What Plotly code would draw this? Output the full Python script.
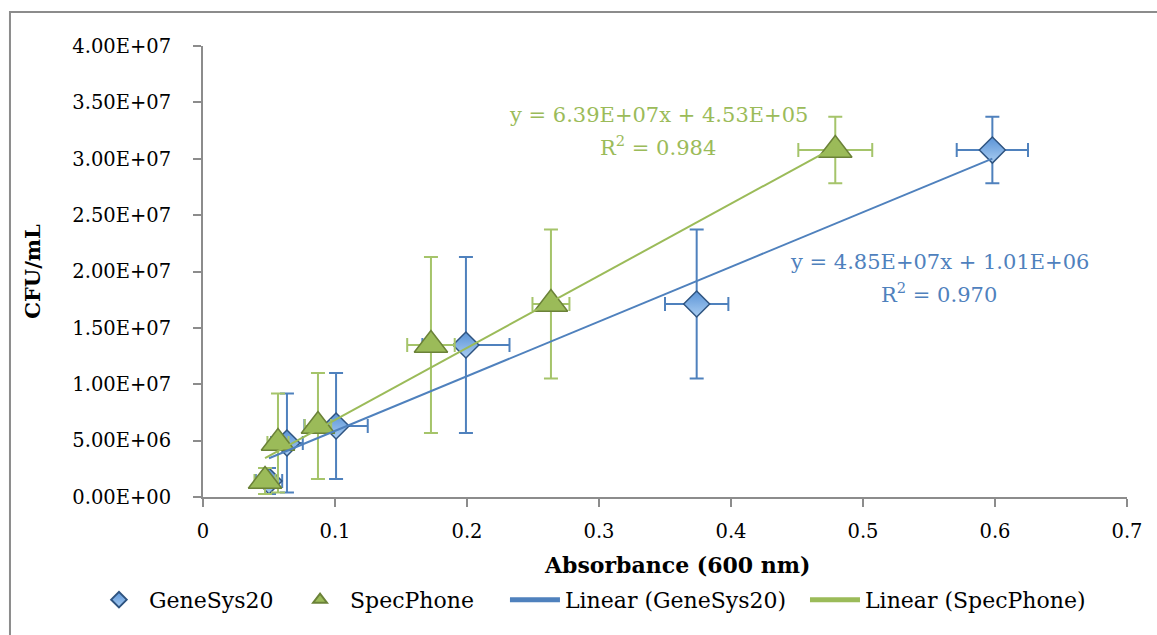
import plotly.graph_objects as go

# ---------------- data ----------------
cfu = [1.42e6, 4.79e6, 6.30e6, 1.348e7, 1.712e7, 3.077e7]
cfu_err = [1.15e6, 4.4e6, 4.7e6, 7.8e6, 6.6e6, 2.95e6]

genesys_x = [0.050, 0.0636, 0.1008, 0.1992, 0.374, 0.598]
genesys_xerr = [0.010, 0.012, 0.024, 0.033, 0.024, 0.027]

specphone_x = [0.047, 0.0568, 0.0871, 0.1727, 0.2636, 0.479]
specphone_xerr = [0.008, 0.008, 0.010, 0.018, 0.014, 0.028]

genesys_fit = {"slope": 4.85e7, "intercept": 1.01e6, "r2": 0.970}
specphone_fit = {"slope": 6.39e7, "intercept": 4.53e5, "r2": 0.984}

y_ticks = [0, 5e6, 1e7, 1.5e7, 2e7, 2.5e7, 3e7, 3.5e7, 4e7]
x_ticks = [0, 0.1, 0.2, 0.3, 0.4, 0.5, 0.6, 0.7]

x_title = "Absorbance (600 nm)"
y_title = "CFU/mL"

# ---------------- style ----------------
BLUE = "#4F81BD"
GREEN = "#9BBB59"
AXIS = "#8c8c8c"
FONT = "DejaVu Serif"


def fit_line(xs, fit):
    x0, x1 = min(xs), max(xs)
    return [x0, x1], [fit["slope"] * x0 + fit["intercept"], fit["slope"] * x1 + fit["intercept"]]


fig = go.Figure()

fig.add_trace(go.Scatter(
    x=genesys_x, y=cfu, mode="markers", name="GeneSys20", legend="legend",
    marker=dict(symbol="diamond", size=20, color="#5a93d6",
                gradient=dict(type="vertical", color="#a9cdf2"),
                line=dict(color="#2f5480", width=1.5)),
    error_y=dict(type="data", array=cfu_err, color=BLUE, thickness=2, width=7),
    error_x=dict(type="data", array=genesys_xerr, color=BLUE, thickness=2, width=7),
))

fig.add_trace(go.Scatter(
    x=specphone_x, y=cfu, mode="markers", name="SpecPhone", legend="legend2",
    marker=dict(symbol="triangle-up", size=29, color=GREEN,
                line=dict(color="#6b8238", width=1.5)),
    error_y=dict(type="data", array=cfu_err, color="#A5C46A", thickness=2, width=7),
    error_x=dict(type="data", array=specphone_xerr, color="#A5C46A", thickness=2, width=7),
))

gx, gy = fit_line(genesys_x, genesys_fit)
fig.add_trace(go.Scatter(x=gx, y=gy, mode="lines", name="Linear (GeneSys20)", legend="legend3",
                         line=dict(color=BLUE, width=2)))
sx, sy = fit_line(specphone_x, specphone_fit)
fig.add_trace(go.Scatter(x=sx, y=sy, mode="lines", name="Linear (SpecPhone)", legend="legend4",
                         line=dict(color=GREEN, width=2)))


def eq_text(fit):
    return f"y = {fit['slope']:.2E}x + {fit['intercept']:.2E}"


annos = [
    dict(x=0.3447, y=3.388e7, text=eq_text(specphone_fit), color=GREEN),
    dict(x=0.3447, y=3.113e7, text=f"R<sup>2</sup> = {specphone_fit['r2']:.3f}", color=GREEN),
    dict(x=0.5576, y=2.084e7, text=eq_text(genesys_fit), color=BLUE),
    dict(x=0.5576, y=1.809e7, text=f"R<sup>2</sup> = {genesys_fit['r2']:.3f}", color=BLUE),
]
for a in annos:
    fig.add_annotation(x=a["x"], y=a["y"], xref="x", yref="y", text=a["text"],
                       showarrow=False, xanchor="center", yanchor="middle",
                       font=dict(family=FONT, size=21, color=a["color"]))

# x-axis title (placed as in the reference, slightly right of the plot centre)
fig.add_annotation(x=0.513, y=-0.151, xref="paper", yref="paper",
                   text=f"<b>{x_title}</b>", showarrow=False,
                   xanchor="center", yanchor="middle",
                   font=dict(family=FONT, size=22, color="black"))

fig.add_shape(type="rect", xref="paper", yref="paper",
              x0=-0.2089, x1=1.2, y0=-0.5, y1=1.0754,
              line=dict(color=AXIS, width=2), layer="below")

leg_common = dict(orientation="h", xanchor="left", y=-0.228, yanchor="middle",
                  font=dict(family=FONT, size=22, color="black"),
                  itemwidth=50, itemsizing="constant", bgcolor="rgba(0,0,0,0)")

fig.update_layout(
    width=1157, height=635,
    margin=dict(l=203, r=30, t=46, b=138, autoexpand=False),
    paper_bgcolor="white", plot_bgcolor="white",
    font=dict(family=FONT, size=19, color="black"),
    showlegend=True,
    legend=dict(x=-0.1234, **leg_common),
    legend2=dict(x=0.0942, **leg_common),
    legend3=dict(x=0.3268, **leg_common),
    legend4=dict(x=0.6515, **leg_common),
    xaxis=dict(range=[0, 0.7], tickvals=x_ticks, ticktext=[f"{v:g}" for v in x_ticks],
               showgrid=False, zeroline=False, showline=True, linecolor=AXIS, linewidth=2,
               ticks="outside", ticklen=8, tickwidth=2, tickcolor=AXIS,
               ticklabelstandoff=8,
               tickfont=dict(family=FONT, size=19.5, color="black")),
    yaxis=dict(range=[0, 4e7], tickvals=y_ticks, ticktext=[f"{v:.2E}" for v in y_ticks],
               showgrid=False, zeroline=False, showline=True, linecolor=AXIS, linewidth=2,
               ticks="outside", ticklen=8, tickwidth=2, tickcolor=AXIS,
               ticklabelstandoff=18,
               tickfont=dict(family=FONT, size=19.5, color="black"),
               title=dict(text=f"<b>{y_title}</b>", standoff=26,
                          font=dict(family=FONT, size=21, color="black"))),
)

fig.write_html("out.html")
